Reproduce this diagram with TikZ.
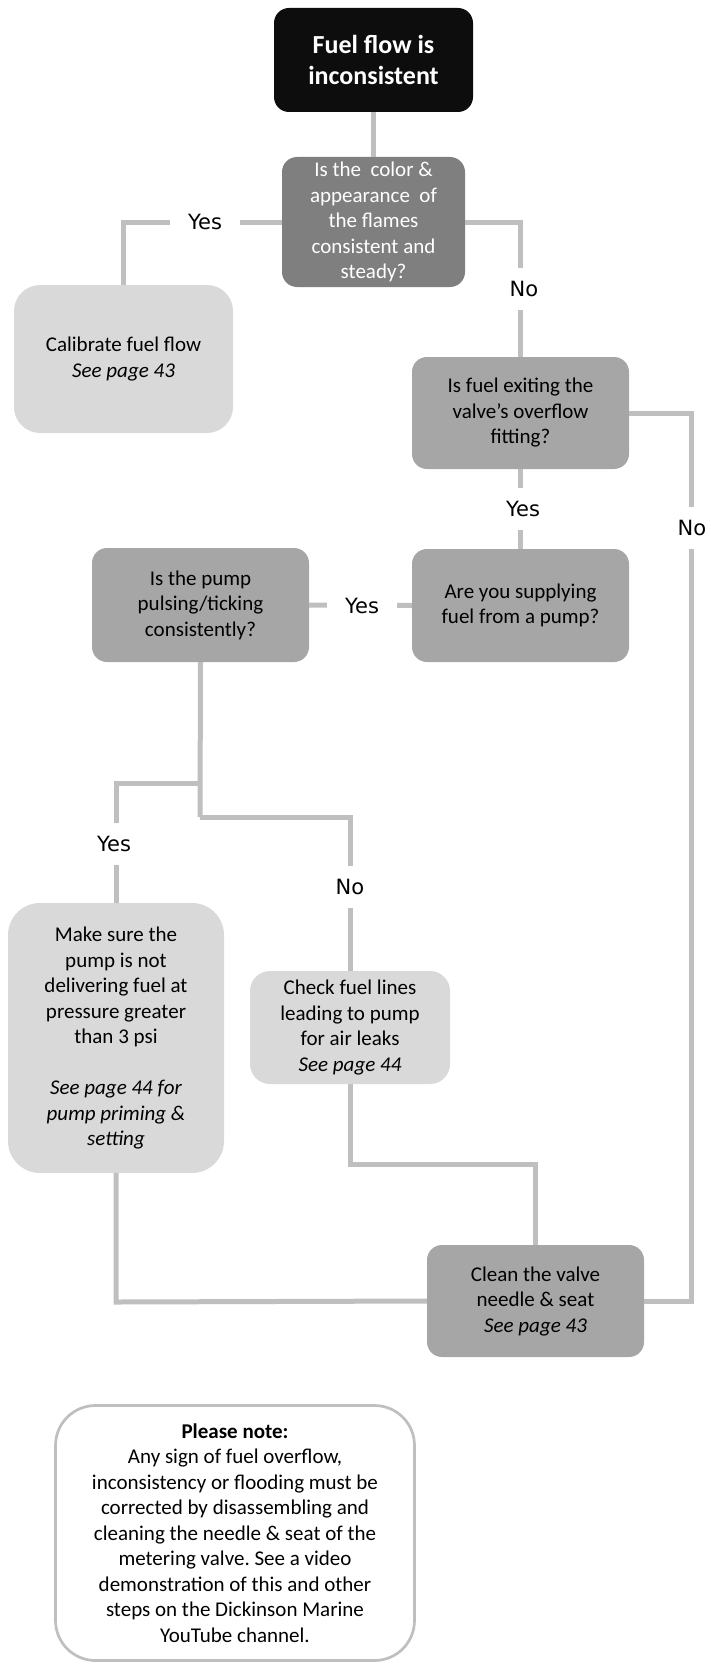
\documentclass[tikz,border=0pt]{standalone}
\usepackage{fontspec}
\setmainfont{Carlito}
\newfontfamily\lblfont{DejaVu Sans}
\definecolor{linegray}{HTML}{BFBFBF}
\definecolor{titleblack}{HTML}{0D0D0D}
\definecolor{darkq}{HTML}{7F7F7F}
\definecolor{midq}{HTML}{A6A6A6}
\definecolor{lightbox}{HTML}{D9D9D9}
\frenchspacing
\begin{document}
\begin{tikzpicture}[x=1pt,y=-1pt,
  box/.style={rectangle, rounded corners=15pt, align=center, inner sep=0pt,
    font=\fontsize{21pt}{25.5pt}\selectfont},
  darkbox/.style={box, fill=darkq, text=white},
  midbox/.style={box, fill=midq, text=black},
  lightbx/.style={box, fill=lightbox, text=black, rounded corners=26pt},
  conn/.style={draw=linegray, line width=5pt},
  lbl/.style={fill=white, inner sep=0pt, minimum width=70pt, minimum height=42pt,
    font=\lblfont\fontsize{21pt}{25pt}\selectfont},
]
\useasboundingbox (0,0) rectangle (711,1664);

% nodes
\node[box, fill=titleblack, text=white, minimum width=199pt, minimum height=104pt,
  font=\bfseries\fontsize{26pt}{31pt}\selectfont] (title) at (373.5,60) {Fuel flow is\\inconsistent};
\node[darkbox, minimum width=183pt, minimum height=130pt] (q1) at (373.5,222)
  {Is the\ \ color \&\\appearance\ \ of\\the flames\\consistent and\\steady?};
\node[lightbx, minimum width=219pt, minimum height=148pt] (calib) at (123.5,359)
  {Calibrate fuel flow\\\textit{See page 43}};
\node[midbox, minimum width=217pt, minimum height=112pt] (q2) at (520.5,413)
  {Is fuel exiting the\\valve’s overflow\\fitting?};
\node[midbox, minimum width=217pt, minimum height=113pt] (q3) at (520.5,605.5)
  {Are you supplying\\fuel from a pump?};
\node[midbox, minimum width=217pt, minimum height=114pt] (q4) at (200.5,605)
  {Is the pump\\pulsing/ticking\\consistently?};
\node[lightbx, rounded corners=32pt, minimum width=216pt, minimum height=270pt] (make) at (116,1038)
  {Make sure the\\pump is not\\delivering fuel at\\pressure greater\\than 3 psi\\[25.5pt]\textit{See page 44 for}\\\textit{pump priming \&}\\\textit{setting}};
\node[lightbx, rounded corners=20pt, minimum width=200pt, minimum height=113pt] (check) at (350,1027.5)
  {Check fuel lines\\leading to pump\\for air leaks\\\textit{See page 44}};
\node[midbox, minimum width=217pt, minimum height=112pt] (clean) at (535.5,1301)
  {Clean the valve\\needle \& seat\\\textit{See page 43}};
\node[box, draw=linegray, line width=2.7pt, fill=white, rounded corners=40pt,
  minimum width=359pt, minimum height=255pt] (note) at (235,1533)
  {\textbf{Please note:}\\Any sign of fuel overflow,\\inconsistency or flooding must be\\corrected by disassembling and\\cleaning the needle \& seat of the\\metering valve. See a video\\demonstration of this and other\\steps on the Dickinson Marine\\YouTube channel.};

% helper coordinates
\coordinate (rx) at (691,413);
\coordinate (split1) at (200,783);
\coordinate (split2) at (200,817);
\coordinate (chk) at (350,1164);
\coordinate (mk) at (116,1302);

% connectors
\draw[conn] (title.south) -- (q1.north);
\draw[conn] (q1.west) -| (calib.north);
\draw[conn] (q1.east) -| (q2.north);
\draw[conn] (q2.east) -- (rx) |- (clean.east);
\draw[conn] (q2.south) -- (q3.north);
\draw[conn] (q3.west) -- (q4.east);
\draw[conn] (q4.south) -- (split2);
\draw[conn] (split1) -| (make.north);
\draw[conn] (split2) -| (check.north);
\draw[conn] (check.south) -- (chk) -| (clean.north);
\draw[conn] (make.south) -- (mk) -- (clean.west);

% labels
\node[lbl] (l1) at (205,222) {Yes};
\node[lbl] (l2) at (524,289) {No};
\node[lbl] (l3) at (523,509) {Yes};
\node[lbl, minimum width=38pt] (l4) at (692,528) {No};
\node[lbl] (l5) at (362,606) {Yes};
\node[lbl] (l6) at (114,844) {Yes};
\node[lbl] (l7) at (350,887) {No};
\end{tikzpicture}
\end{document}
